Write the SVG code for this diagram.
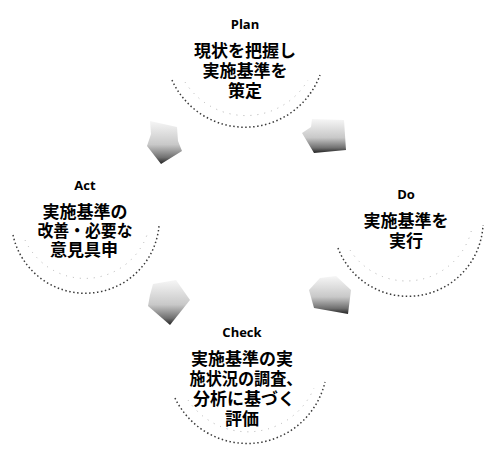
<svg xmlns="http://www.w3.org/2000/svg" width="484" height="453" viewBox="0 0 484 453">
<defs>
<linearGradient id="ag" x1="0" y1="0" x2="0" y2="1">
<stop offset="0" stop-color="#f6f6f6"/>
<stop offset="0.55" stop-color="#c8c8c8"/>
<stop offset="0.85" stop-color="#707070"/>
<stop offset="1" stop-color="#222"/>
</linearGradient>
</defs>
<style>
.rim{fill:none;stroke:#3a3a3a;stroke-width:1.5;stroke-dasharray:1.5 2.5}
.rim2{fill:none;stroke:#b0b0b0;stroke-width:1;stroke-dasharray:1 6}
.arr{fill:url(#ag)}
.lbl{font-family:"Open Sans","Noto Sans",sans-serif;font-weight:bold;font-size:13px;fill:#000;text-anchor:middle}
.jp{font-family:"Noto Sans CJK JP",sans-serif;font-weight:bold;font-size:17px;fill:#000;text-anchor:middle}
</style>
<rect width="484" height="453" fill="#fff"/>
<g id="connectors">
<polygon class="arr" points="150,121 177,127 178,141 182,151 161,164 147,146 151,134"/>
<polygon class="arr" points="312,119 344,120 346,150 314,153 302,133 311,127"/>
<polygon class="arr" points="320,278 336,276 351,290 348,314 314,308 309,290"/>
<polygon class="arr" points="153,284 176,280 190,300 170,325 148,306 150,295"/>
</g>
<g id="plan">
<path class="rim" d="M172,80 A80,80 0 0 0 320,75"/>
<path class="rim2" d="M185,82 A72,72 0 0 0 308,80"/>
<text class="lbl" x="245" y="29">Plan</text>
<text class="jp"><tspan x="245" y="56.5">現状を把握し</tspan><tspan x="245" y="77">実施基準を</tspan><tspan x="245" y="97">策定</tspan></text>
</g>
<g id="do">
<path class="rim" d="M338,248 A75,75 0 0 0 483,225"/>
<path class="rim2" d="M350,250 A67,67 0 0 0 472,228"/>
<text class="lbl" x="406" y="199">Do</text>
<text class="jp"><tspan x="406" y="226.5">実施基準を</tspan><tspan x="406" y="246.5">実行</tspan></text>
</g>
<g id="check">
<path class="rim" d="M175,398 A80,80 0 0 0 325,382"/>
<path class="rim2" d="M188,400 A72,72 0 0 0 314,388"/>
<text class="lbl" x="242" y="337">Check</text>
<text class="jp"><tspan x="242" y="364.5">実施基準の実</tspan><tspan x="246" y="384.5" textLength="113" lengthAdjust="spacingAndGlyphs">施状況の調査、</tspan><tspan x="244" y="404.5">分析に基づく</tspan><tspan x="242" y="424.5">評価</tspan></text>
</g>
<g id="act">
<path class="rim" d="M13,235 A74,74 0 0 0 159,226"/>
<path class="rim2" d="M25,240 A66,66 0 0 0 148,232"/>
<text class="lbl" x="85" y="190">Act</text>
<text class="jp"><tspan x="85" y="218">実施基準の</tspan><tspan x="85" y="237" textLength="95" lengthAdjust="spacingAndGlyphs">改善・必要な</tspan><tspan x="84" y="256">意見具申</tspan></text>
</g>
</svg>
